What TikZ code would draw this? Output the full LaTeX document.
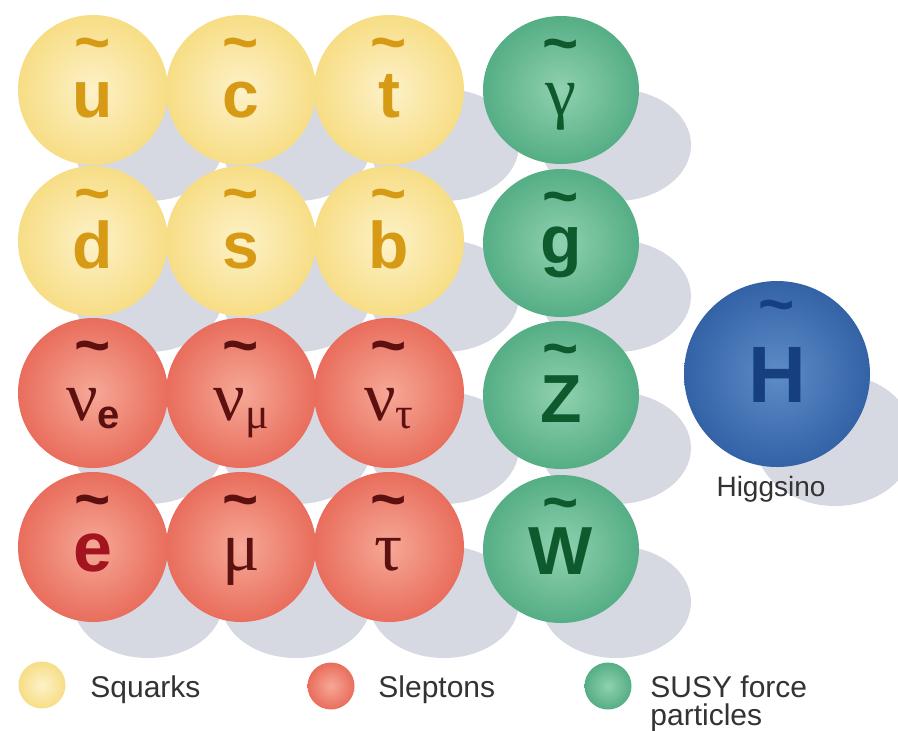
\documentclass[tikz,border=0pt]{standalone}
\usepackage{fontspec}
\setmainfont{Liberation Sans}
\newfontfamily\grkfont{Liberation Serif}
\usetikzlibrary{shapes.geometric,positioning}

\definecolor{sqfill}{HTML}{F7DD85}
\definecolor{sqlight}{HTML}{FDF2C8}
\definecolor{sqtext}{HTML}{D69A14}
\definecolor{slfill}{HTML}{E96D5C}
\definecolor{sllight}{HTML}{F6A897}
\definecolor{sltext}{HTML}{5C1010}
\definecolor{sletext}{HTML}{A3141F}
\definecolor{frfill}{HTML}{55AE85}
\definecolor{frlight}{HTML}{90D1B0}
\definecolor{frtext}{HTML}{0E5A2D}
\definecolor{hgfill}{HTML}{3362A6}
\definecolor{hglight}{HTML}{5E8CC8}
\definecolor{hgtext}{HTML}{153F7E}
\definecolor{shadowgrey}{HTML}{D6D9E2}
\definecolor{legtext}{HTML}{333333}

\newcommand{\bigsans}{\fontsize{33}{33}\selectfont\bfseries}
\newcommand{\biggrk}{\fontsize{35}{35}\selectfont\grkfont\mdseries}
\newcommand{\lowtxt}[1]{\raisebox{-4pt}{#1}}

\begin{document}
\begin{tikzpicture}[x=0.5pt, y=-0.5pt,
    ball/.style={circle, minimum size=75pt, inner sep=0pt, text height=27pt, text depth=0pt},
    tildemark/.style={anchor=center, inner sep=0pt, font=\fontsize{31}{31}\selectfont\bfseries, yshift=-18pt},
    squark/.style={ball, inner color=sqlight, outer color=sqfill, text=sqtext, font=\bigsans,
      label={[tildemark, text=sqtext]90:\textasciitilde}},
    slepton/.style={ball, inner color=sllight, outer color=slfill, text=sltext,
      label={[tildemark, text=sltext]90:\textasciitilde}},
    force/.style={ellipse, minimum width=78pt, minimum height=74pt, inner sep=0pt,
      text height=27pt, text depth=0pt,
      inner color=frlight, outer color=frfill, text=frtext, font=\fontsize{34}{34}\selectfont\bfseries,
      label={[tildemark, text=frtext]90:\textasciitilde}},
    legball/.style={circle, minimum size=23.5pt, inner sep=0pt},
    legtext/.style={text=legtext, font=\fontsize{15}{14}\selectfont, inner sep=0pt, align=left}]
    \path[use as bounding box, fill=white] (0,0) rectangle (898,730);

    % shadows behind the balls
    \foreach \x in {93,241,389,561}
      \foreach \y in {90,241,393,547}
        \fill[shadowgrey] (\x+55,\y+55) ellipse (37.5pt and 28pt);
    \fill[shadowgrey] (835,440) ellipse (40pt and 33pt);

    % squarks
    \node[squark] (u) at (93,90)  {u};
    \node[squark] (c) at (241,90) {c};
    \node[squark] (t) at (389,90) {t};
    \node[squark] (d) at (93,241)  {d};
    \node[squark] (s) at (241,241) {s};
    \node[squark] (b) at (389,241) {b};

    % sleptons
    \node[slepton] (nue)   at (93,393)  {{\biggrk ν}\lowtxt{\fontsize{20}{20}\selectfont\bfseries e}};
    \node[slepton] (numu)  at (241,393) {{\biggrk ν}\lowtxt{\fontsize{22}{22}\selectfont\grkfont μ}};
    \node[slepton] (nutau) at (389,393) {{\biggrk ν}\lowtxt{\fontsize{22}{22}\selectfont\grkfont τ}};
    \node[slepton, text=sletext, font=\fontsize{35}{35}\selectfont\bfseries, text height=24pt] (e) at (93,547) {e};
    \node[slepton, text height=23pt] (mu)  at (241,547) {\biggrk μ};
    \node[slepton, text height=23pt] (tau) at (389,547) {\biggrk τ};

    % SUSY force particles
    \node[force, text height=25pt] (gamma) at (561,90)  {\biggrk γ};
    \node[force, text height=20pt] (g)     at (561,243) {g};
    \node[force] (Z)     at (561,395) {Z};
    \node[force, text height=25pt] (W)     at (561,549) {W};

    % higgsino
    \node[circle, minimum size=93pt, inner sep=0pt, inner color=hglight, outer color=hgfill,
      text=hgtext, font=\fontsize{40}{40}\selectfont\bfseries, text height=28pt, text depth=0pt,
      label={[tildemark, text=hgtext, yshift=2pt]90:\textasciitilde}] (hino) at (777,374) {H};
    \node[legtext, font=\fontsize{14}{14}\selectfont, below=4pt of hino, xshift=-3pt] (hinolbl) {Higgsino};

    % legend
    \node[legball, inner color=sqlight, outer color=sqfill] (lsq) at (42,685) {};
    \node[legball, inner color=sllight, outer color=slfill] (lsl) at (331,686) {};
    \node[legball, inner color=frlight, outer color=frfill] (lfr) at (608,686) {};
    \node[legtext, anchor=base west] (tsq) at (90,697)  {Squarks};
    \node[legtext, anchor=base west] (tsl) at (378,697) {Sleptons};
    \node[legtext, anchor=base west] (tfr) at (650,725) {SUSY force\\particles};
\end{tikzpicture}
\end{document}
